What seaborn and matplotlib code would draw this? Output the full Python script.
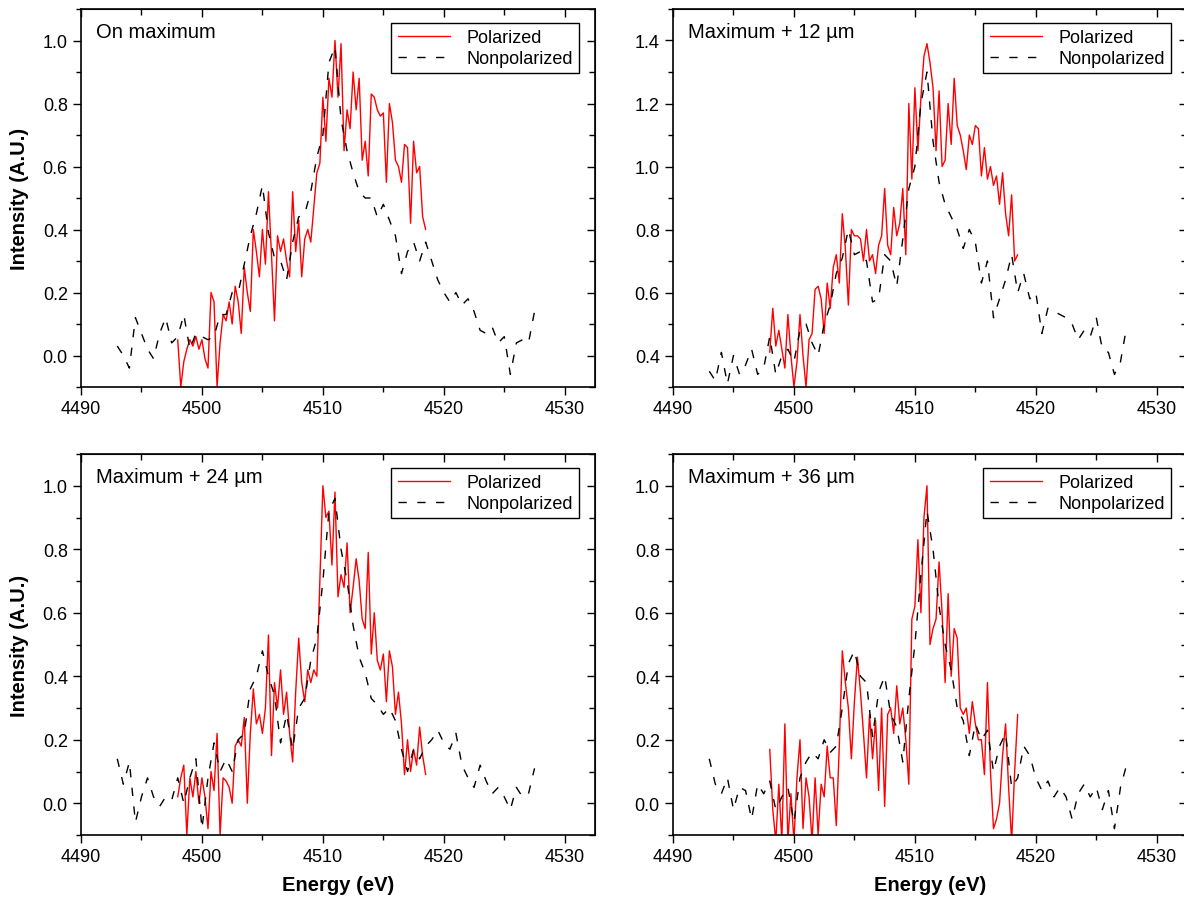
#! /usr/bin/python3
# -*- coding:utf-8 -*-
"""
seaborn: polarized vs nonpolarized spectra, four positions.
"""
import numpy as np
import seaborn as sns
import matplotlib.pyplot as plt
from matplotlib.ticker import MultipleLocator, FormatStrFormatter

# energy grids: start and step (eV)
np_start, np_step = 4493.0, 0.5
pol_start, pol_step = 4498.0, 0.25

titles = ['On maximum', 'Maximum + 12 \u00b5m', 'Maximum + 24 \u00b5m', 'Maximum + 36 \u00b5m']

# ---- On maximum ----
max0_np = [0.03, 0.00, -0.04, 0.12, 0.07, 0.02, -0.01, 0.07, 0.12, 0.04,
           0.06, 0.13, 0.02, 0.07, 0.06, 0.05, 0.06, 0.13, 0.13, 0.20,
           0.20, 0.29, 0.38, 0.45, 0.54, 0.39, 0.31, 0.30, 0.24, 0.36,
           0.44, 0.45, 0.52, 0.63, 0.70, 0.93, 0.98, 0.75, 0.65, 0.58,
           0.52, 0.50, 0.50, 0.44, 0.48, 0.43, 0.38, 0.26, 0.33, 0.36,
           0.30, 0.36, 0.30, 0.24, 0.20, 0.17, 0.20, 0.16, 0.18, 0.14,
           0.08, 0.07, 0.09, 0.04, 0.06, -0.06, 0.04, 0.05, 0.04, 0.14]
max0_pol = [0.05, -0.10, -0.02, 0.02, 0.05, 0.03, 0.06, 0.02,
            0.05, -0.01, -0.04, 0.20, 0.17, -0.10, 0.04, 0.13,
            0.11, 0.17, 0.10, 0.22, 0.17, 0.07, 0.28, 0.20,
            0.14, 0.40, 0.33, 0.25, 0.40, 0.29, 0.52, 0.32,
            0.11, 0.38, 0.33, 0.37, 0.30, 0.25, 0.52, 0.33,
            0.43, 0.25, 0.37, 0.40, 0.36, 0.47, 0.58, 0.61,
            0.82, 0.68, 0.88, 0.82, 1.00, 0.82, 0.99, 0.65,
            0.78, 0.72, 0.90, 0.78, 0.88, 0.62, 0.68, 0.57,
            0.83, 0.82, 0.78, 0.76, 0.77, 0.55, 0.80, 0.74,
            0.62, 0.60, 0.55, 0.67, 0.66, 0.42, 0.68, 0.58,
            0.60, 0.44, 0.40]

# ---- Maximum + 12 um ----
max12_np = [0.35, 0.32, 0.41, 0.31, 0.40, 0.34, 0.37, 0.42, 0.34, 0.36,
            0.46, 0.34, 0.40, 0.42, 0.38, 0.48, 0.50, 0.44, 0.40, 0.50,
            0.56, 0.66, 0.71, 0.80, 0.72, 0.73, 0.70, 0.57, 0.58, 0.72,
            0.70, 0.62, 0.77, 0.93, 1.00, 1.20, 1.30, 1.08, 0.95, 0.88,
            0.84, 0.80, 0.74, 0.80, 0.76, 0.63, 0.70, 0.52, 0.58, 0.64,
            0.72, 0.60, 0.66, 0.58, 0.60, 0.47, 0.55, 0.54, 0.53, 0.52,
            0.50, 0.45, 0.48, 0.46, 0.52, 0.42, 0.41, 0.34, 0.38, 0.49]
max12_pol = [0.41, 0.55, 0.43, 0.48, 0.42, 0.36, 0.53, 0.40,
             0.30, 0.38, 0.53, 0.40, 0.30, 0.45, 0.47, 0.61,
             0.62, 0.58, 0.47, 0.63, 0.55, 0.68, 0.72, 0.63,
             0.85, 0.74, 0.56, 0.80, 0.78, 0.78, 0.77, 0.70,
             0.80, 0.70, 0.72, 0.66, 0.75, 0.78, 0.93, 0.75,
             0.72, 0.87, 0.78, 0.82, 0.93, 0.72, 1.20, 0.96,
             1.25, 1.05, 1.22, 1.35, 1.39, 1.33, 1.25, 1.05,
             1.24, 1.00, 1.02, 1.20, 1.07, 1.28, 1.13, 1.10,
             1.05, 0.99, 1.10, 1.07, 1.13, 1.12, 0.97, 1.06,
             0.96, 1.00, 0.94, 0.97, 0.88, 0.98, 0.85, 0.78,
             0.91, 0.70, 0.72]

# ---- Maximum + 24 um ----
max24_np = [0.14, 0.06, 0.13, -0.06, 0.02, 0.08, 0.02, -0.01, 0.02, 0.01,
            0.08, 0.00, 0.08, 0.14, -0.08, 0.08, 0.19, 0.10, 0.14, 0.10,
            0.20, 0.22, 0.36, 0.40, 0.48, 0.40, 0.34, 0.19, 0.28, 0.17,
            0.30, 0.33, 0.45, 0.52, 0.70, 0.92, 0.96, 0.80, 0.70, 0.56,
            0.46, 0.41, 0.33, 0.31, 0.28, 0.30, 0.26, 0.17, 0.10, 0.17,
            0.14, 0.18, 0.20, 0.23, 0.19, 0.17, 0.22, 0.12, 0.08, 0.05,
            0.12, 0.07, 0.03, 0.05, 0.02, -0.02, 0.05, 0.02, 0.03, 0.11]
max24_pol = [0.02, 0.08, 0.12, -0.10, 0.08, 0.02, 0.10, 0.00,
             0.08, 0.02, -0.08, 0.10, 0.04, 0.22, -0.10, 0.08,
             0.07, 0.05, 0.00, 0.18, 0.20, 0.18, 0.27, 0.00,
             0.22, 0.36, 0.25, 0.28, 0.22, 0.30, 0.53, 0.15,
             0.38, 0.30, 0.42, 0.28, 0.35, 0.22, 0.13, 0.35,
             0.52, 0.38, 0.32, 0.42, 0.38, 0.42, 0.40, 0.70,
             1.00, 0.90, 0.92, 0.75, 0.98, 0.65, 0.72, 0.68,
             0.82, 0.60, 0.68, 0.77, 0.70, 0.58, 0.55, 0.79,
             0.47, 0.60, 0.45, 0.42, 0.47, 0.32, 0.48, 0.43,
             0.28, 0.35, 0.25, 0.09, 0.20, 0.10, 0.17, 0.12,
             0.24, 0.15, 0.09]

# ---- Maximum + 36 um ----
max36_np = [0.14, 0.06, 0.03, 0.08, -0.02, 0.05, 0.04, -0.05, 0.06, 0.03,
            0.07, -0.02, 0.02, 0.05, -0.06, 0.08, 0.13, 0.16, 0.14, 0.20,
            0.16, 0.18, 0.30, 0.44, 0.48, 0.40, 0.38, 0.21, 0.35, 0.40,
            0.28, 0.24, 0.13, 0.33, 0.50, 0.72, 0.92, 0.80, 0.62, 0.50,
            0.42, 0.30, 0.26, 0.15, 0.25, 0.20, 0.23, 0.10, 0.18, 0.22,
            0.05, 0.08, 0.18, 0.15, 0.08, 0.04, 0.07, 0.02, 0.05, 0.02,
            -0.05, 0.03, 0.06, 0.02, 0.05, -0.02, 0.04, -0.08, 0.05, 0.12]
max36_pol = [0.17, -0.02, -0.12, 0.06, -0.12, 0.25, -0.12, 0.03,
             -0.12, 0.08, 0.20, -0.08, 0.08, 0.02, -0.12, 0.08,
             -0.10, 0.06, 0.02, 0.18, 0.08, 0.08, -0.07, 0.18,
             0.48, 0.38, 0.30, 0.14, 0.32, 0.46, 0.35, 0.22,
             0.08, 0.28, 0.14, 0.26, 0.04, 0.30, -0.01, 0.28,
             0.30, 0.22, 0.37, 0.25, 0.30, 0.20, 0.06, 0.58,
             0.62, 0.83, 0.60, 0.90, 1.00, 0.50, 0.55, 0.58,
             0.76, 0.60, 0.38, 0.66, 0.40, 0.55, 0.52, 0.30,
             0.28, 0.30, 0.22, 0.32, 0.25, 0.20, 0.20, 0.09,
             0.38, 0.10, -0.08, -0.05, 0.00, 0.15, 0.25, 0.05,
             -0.12, 0.10, 0.28]

np_series = [max0_np, max12_np, max24_np, max36_np]
pol_series = [max0_pol, max12_pol, max24_pol, max36_pol]
ylims = [(-0.1, 1.1), (0.3, 1.5), (-0.1, 1.1), (-0.1, 1.1)]

sns.set_style('ticks')
plt.rcParams['font.family'] = ['Liberation Sans', 'DejaVu Sans']
plt.rcParams.update({'text.color': 'black', 'axes.labelcolor': 'black',
                     'xtick.color': 'black', 'ytick.color': 'black'})

W, H = 1184, 903
fig = plt.figure(figsize=(W / 100, H / 100), dpi=100)

# axes boxes in pixels: left, top, width, height
boxes = [(81, 10, 514, 378), (673, 10, 514, 378),
         (81, 455, 514, 381), (673, 455, 514, 381)]

for i, (l, t, w, h) in enumerate(boxes):
    ax = fig.add_axes([l / W, 1 - (t + h) / H, w / W, h / H])

    x_pol = pol_start + pol_step * np.arange(len(pol_series[i]))
    x_np = np_start + np_step * np.arange(len(np_series[i]))
    sns.lineplot(x=x_pol, y=pol_series[i], ax=ax, color='#ff0000', lw=1.0,
                 label='Polarized')
    sns.lineplot(x=x_np, y=np_series[i], ax=ax, color='black', lw=1.0,
                 linestyle=(0, (6, 7.5)), label='Nonpolarized')

    ax.set_xlim(4490, 4532.5)
    ax.set_ylim(*ylims[i])
    ax.xaxis.set_major_locator(MultipleLocator(10))
    ax.xaxis.set_minor_locator(MultipleLocator(5))
    ax.yaxis.set_major_locator(MultipleLocator(0.2))
    ax.yaxis.set_minor_locator(MultipleLocator(0.1))
    ax.yaxis.set_major_formatter(FormatStrFormatter('%.1f'))
    ax.tick_params(which='both', direction='out', width=1, labelsize=13,
                   top=False, right=False, colors='black')
    ax.tick_params(which='major', length=6)
    ax.tick_params(which='minor', length=3.5)
    for s in ax.spines.values():
        s.set_visible(True)
        s.set_linewidth(1.2)
        s.set_color('black')

    # inward ticks on top and right
    sx = ax.secondary_xaxis('top')
    sx.xaxis.set_major_locator(MultipleLocator(10))
    sx.xaxis.set_minor_locator(MultipleLocator(5))
    sx.tick_params(which='both', direction='in', labeltop=False, width=1)
    sx.tick_params(which='major', length=6)
    sx.tick_params(which='minor', length=4)
    sy = ax.secondary_yaxis('right')
    sy.yaxis.set_major_locator(MultipleLocator(0.2))
    sy.yaxis.set_minor_locator(MultipleLocator(0.1))
    sy.tick_params(which='both', direction='in', labelright=False, width=1)
    sy.tick_params(which='major', length=6)
    sy.tick_params(which='minor', length=4)

    ax.text(15 / w, 1 - 23 / h, titles[i], transform=ax.transAxes,
            ha='left', va='center', fontsize=14.5, color='black')

    leg = ax.legend(loc='upper right', bbox_to_anchor=(1 - 16 / w, 1 - 14 / h),
                    borderaxespad=0, fontsize=13, frameon=True, fancybox=False,
                    edgecolor='black', framealpha=1, handlelength=2.9,
                    handletextpad=0.9, labelspacing=0.2, borderpad=0.35)
    leg.get_frame().set_linewidth(1.0)

    if i % 2 == 0:
        ax.set_ylabel('Intensity (A.U.)', fontsize=14.5, fontweight='bold')
        ax.yaxis.set_label_coords(-0.101, 0.5)
    else:
        ax.set_ylabel('')
    if i >= 2:
        ax.set_xlabel('Energy (eV)', fontsize=14.5, fontweight='bold')
        ax.xaxis.set_label_coords(0.5, -0.105)
    else:
        ax.set_xlabel('')

fig.savefig('out.png', dpi=100)
